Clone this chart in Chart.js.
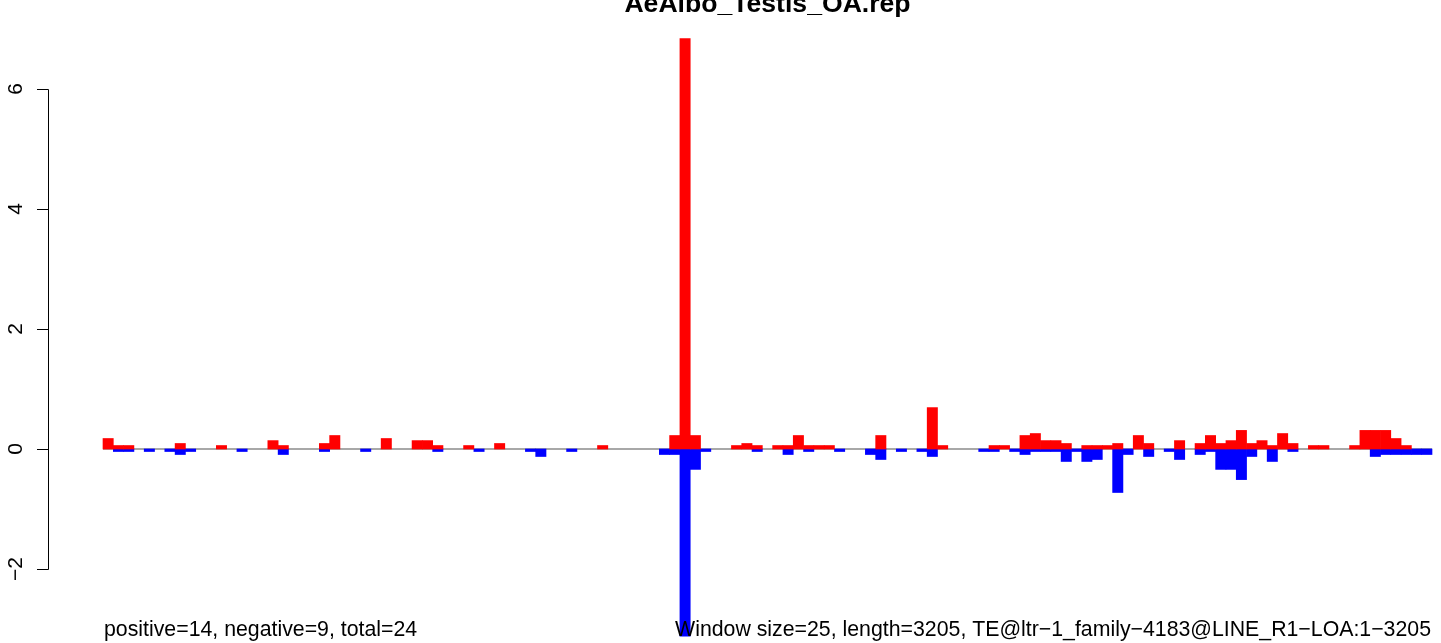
<!DOCTYPE html>
<html>
<head>
<meta charset="utf-8">
<script src="https://cdn.jsdelivr.net/npm/chart.js@4.4.1/dist/chart.umd.min.js"></script>
<style>
  html, body { margin: 0; padding: 0; background: #ffffff; }
  #wrap { width: 1441px; height: 643px; position: relative; }
</style>
</head>
<body>
<div id="wrap"><canvas id="c" width="1441" height="643"></canvas></div>
<script>
// ---- data ----
const chartTitle = "AeAlbo_Testis_OA.rep";
const windowSize = 25;
const seqLength = 3205;
const leftNote = "positive=14, negative=9, total=24";
const rightNote = "Window size=25, length=3205, TE@ltr\u22121_family\u22124183@LINE_R1\u2212LOA:1\u22123205";
const yTicks = [-2, 0, 2, 4, 6];

// category = start position of each window
const windows = [];
for (let s = 1; s <= seqLength; s += windowSize) windows.push(s);

const positiveValues = [
  0.175, 0.058, 0.058, 0, 0, 0, 0, 0.092, 0, 0,
  0, 0.058, 0, 0, 0, 0, 0.14, 0.058, 0, 0,
  0, 0.092, 0.225, 0, 0, 0, 0, 0.175, 0, 0,
  0.14, 0.14, 0.058, 0, 0, 0.058, 0, 0, 0.092, 0,
  0, 0, 0, 0, 0, 0, 0, 0, 0.058, 0,
  0, 0, 0, 0, 0, 0.225, 6.84, 0.225, 0, 0,
  0, 0.058, 0.092, 0.058, 0, 0.058, 0.058, 0.225, 0.058, 0.058,
  0.058, 0, 0, 0, 0, 0.225, 0, 0, 0, 0,
  0.69, 0.058, 0, 0, 0, 0, 0.058, 0.058, 0, 0.225,
  0.258, 0.14, 0.14, 0.092, 0, 0.058, 0.058, 0.058, 0.092, 0,
  0.225, 0.092, 0, 0, 0.14, 0, 0.092, 0.225, 0.092, 0.14,
  0.31, 0.092, 0.14, 0.058, 0.258, 0.092, 0, 0.058, 0.058, 0,
  0, 0.058, 0.31, 0.31, 0.31, 0.175, 0.058, 0, 0
];

const negativeValues = [
  0, -0.042, -0.042, 0, -0.042, 0, -0.042, -0.092, -0.042, 0,
  0, 0, 0, -0.042, 0, 0, 0, -0.092, 0, 0,
  0, -0.042, 0, 0, 0, -0.042, 0, 0, 0, 0,
  0, 0, -0.042, 0, 0, 0, -0.042, 0, 0, 0,
  0, -0.042, -0.125, 0, 0, -0.042, 0, 0, 0, 0,
  0, 0, 0, 0, -0.092, -0.092, -3.12, -0.34, -0.042, 0,
  0, 0, 0, -0.042, 0, 0, -0.092, 0, -0.042, 0,
  0, -0.042, 0, 0, -0.092, -0.175, 0, -0.042, 0, -0.042,
  -0.125, 0, 0, 0, 0, -0.042, -0.042, 0, -0.042, -0.092,
  -0.042, -0.042, -0.042, -0.208, -0.042, -0.208, -0.175, 0, -0.725, -0.092,
  0, -0.125, 0, -0.042, -0.175, 0, -0.092, -0.042, -0.34, -0.34,
  -0.51, -0.125, 0, -0.208, 0, -0.042, 0, 0, 0, 0,
  0, 0, 0, -0.125, -0.092, -0.092, -0.092, -0.092, -0.092
];

// empty windows draw no bar at all
const nz = arr => arr.map(v => (v === 0 ? null : v));

// ---- plugins ----
const FONT = '"Liberation Sans", Arial, Helvetica, sans-serif';

const baselinePlugin = {
  id: 'baseline',
  beforeDatasetsDraw(chart) {
    const { ctx, chartArea, scales } = chart;
    const y = scales.y.getPixelForValue(0);
    ctx.save();
    ctx.strokeStyle = '#a8a8a8';
    ctx.lineWidth = 2;
    ctx.beginPath();
    ctx.moveTo(chartArea.left, y);
    ctx.lineTo(chartArea.right, y);
    ctx.stroke();
    ctx.restore();
  }
};

const decorPlugin = {
  id: 'decor',
  afterDraw(chart) {
    const { ctx, chartArea, scales } = chart;
    const ys = scales.y;
    ctx.save();
    // y axis
    const ax = 48.5;
    ctx.strokeStyle = '#000';
    ctx.lineWidth = 1;
    ctx.beginPath();
    ctx.moveTo(ax, Math.round(ys.getPixelForValue(yTicks[0])) + 0.5);
    ctx.lineTo(ax, Math.round(ys.getPixelForValue(yTicks[yTicks.length - 1])) + 0.5);
    yTicks.forEach(v => {
      const py = Math.round(ys.getPixelForValue(v)) + 0.5;
      ctx.moveTo(37, py);
      ctx.lineTo(ax, py);
    });
    ctx.stroke();
    ctx.fillStyle = '#000';
    ctx.font = '21px ' + FONT;
    ctx.textAlign = 'center';
    ctx.textBaseline = 'alphabetic';
    yTicks.forEach(v => {
      const py = ys.getPixelForValue(v);
      ctx.save();
      ctx.translate(22, py);
      ctx.rotate(-Math.PI / 2);
      ctx.fillText(v < 0 ? '\u2212' + Math.abs(v) : String(v), 0, 0);
      ctx.restore();
    });
    // title
    ctx.font = 'bold 26.6px ' + FONT;
    ctx.textAlign = 'center';
    ctx.fillText(chartTitle, (chartArea.left + chartArea.right) / 2, 12);
    // bottom notes
    ctx.font = '21.3px ' + FONT;
    ctx.textAlign = 'left';
    ctx.fillText(leftNote, chartArea.left + 1, 636);
    ctx.textAlign = 'right';
    ctx.fillText(rightNote, chartArea.right - 1, 636);
    ctx.restore();
  }
};

new Chart(document.getElementById('c'), {
  type: 'bar',
  data: {
    labels: windows,
    datasets: [
      { label: 'positive', data: nz(positiveValues), backgroundColor: '#ff0000', borderWidth: 0, clip: false },
      { label: 'negative', data: nz(negativeValues), backgroundColor: '#0000ff', borderWidth: 0, clip: false }
    ]
  },
  options: {
    responsive: false,
    animation: false,
    events: [],
    layout: { padding: { left: 103, right: 9, top: 89, bottom: 74 } },
    datasets: { bar: { barPercentage: 1, categoryPercentage: 1 } },
    scales: {
      x: { display: false, stacked: true, offset: true },
      y: { display: false, stacked: true, min: -2, max: 6 }
    },
    plugins: { legend: { display: false }, tooltip: { enabled: false }, title: { display: false } }
  },
  plugins: [baselinePlugin, decorPlugin]
});
</script>
</body>
</html>
